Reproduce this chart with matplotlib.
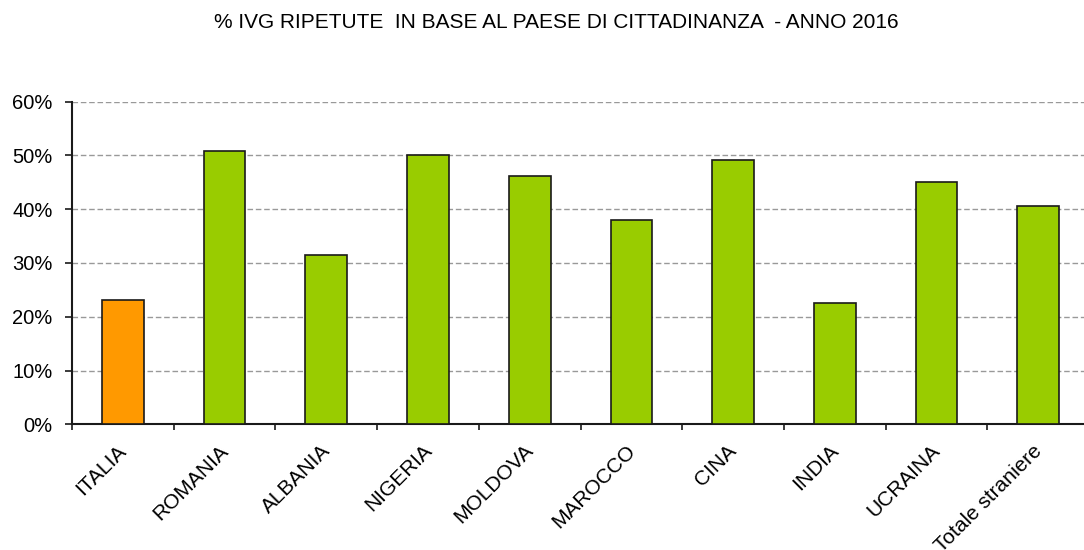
import matplotlib
matplotlib.use("Agg")
import matplotlib.pyplot as plt
from matplotlib.ticker import FuncFormatter, FixedLocator

categories = ["ITALIA", "ROMANIA", "ALBANIA", "NIGERIA", "MOLDOVA", "MAROCCO",
              "CINA", "INDIA", "UCRAINA", "Totale straniere"]
values = [23.1, 50.8, 31.5, 50.0, 46.2, 38.0, 49.1, 22.5, 45.0, 40.6]
colors = ["#FF9900"] + ["#99CC00"] * 9
title = "% IVG RIPETUTE  IN BASE AL PAESE DI CITTADINANZA  - ANNO 2016"

plt.rcParams['font.family'] = ['Liberation Sans', 'DejaVu Sans']

fig = plt.figure(figsize=(10.84, 5.5), dpi=100)
ax = fig.add_axes([72 / 1084, 1 - 424.3 / 550, 1 - 72 / 1084, (424.3 - 101.7) / 550])

x = list(range(len(categories)))
ax.bar(x, values, width=0.41, color=colors, edgecolor="#1a1a1a", linewidth=1.2, zorder=3)

ax.set_xlim(-0.5, 9.45)
ax.set_ylim(0, 60)
ax.set_yticks([0, 10, 20, 30, 40, 50, 60])
ax.yaxis.set_major_formatter(FuncFormatter(lambda v, p: f"{int(v)}%"))
ax.yaxis.grid(True, linestyle=(0, (4, 2)), color="#999999", linewidth=1.0, zorder=0)

ax.xaxis.set_major_locator(FixedLocator([i - 0.5 for i in range(10)]))
ax.xaxis.set_minor_locator(FixedLocator(x))
ax.set_xticklabels([""] * 10)
ax.set_xticklabels(categories, minor=True, rotation=45, ha="right", rotation_mode="anchor",
                   fontsize=15)
ax.tick_params(axis="x", which="minor", length=0, pad=12)
ax.tick_params(axis="x", which="major", length=4.5, width=1.2, color="#1a1a1a")
ax.tick_params(axis="y", length=5, width=1.2, color="#1a1a1a", labelsize=14.5, pad=9)
for lbl in ax.get_xticklabels(minor=True):
    lbl.set_transform(lbl.get_transform() + matplotlib.transforms.ScaledTranslation(-0.06, 0, fig.dpi_scale_trans))

for s in ["top", "right"]:
    ax.spines[s].set_visible(False)
for s in ["left", "bottom"]:
    ax.spines[s].set_linewidth(1.5)
    ax.spines[s].set_color("#1a1a1a")

fig.text(556 / 1084, 1 - 22 / 550, title, ha="center", va="center", fontsize=15)

fig.savefig("out.png", dpi=100)
